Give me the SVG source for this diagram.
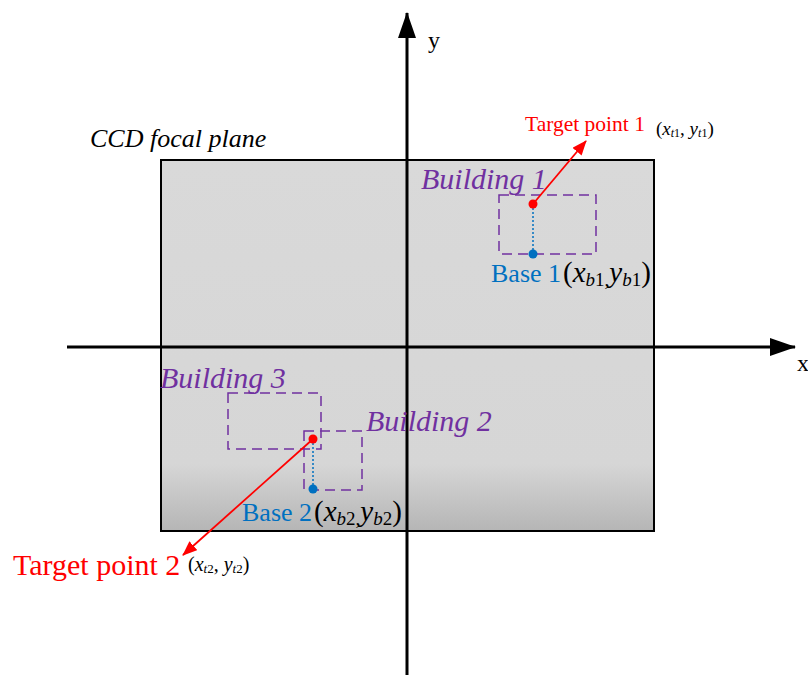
<svg xmlns="http://www.w3.org/2000/svg" width="808" height="675" viewBox="0 0 808 675">
<defs>
<linearGradient id="g" x1="0" y1="0" x2="0" y2="1">
<stop offset="0" stop-color="#d9d9d9"/>
<stop offset="0.82" stop-color="#d6d6d6"/>
<stop offset="1" stop-color="#b5b5b5"/>
</linearGradient>
<marker id="ar" markerWidth="15" markerHeight="12" refX="14" refY="6" orient="auto" markerUnits="userSpaceOnUse">
<path d="M0,0 L15,6 L0,12 Z" fill="#ff0000"/>
</marker>
<marker id="ak" markerWidth="26" markerHeight="18" refX="25" refY="9" orient="auto" markerUnits="userSpaceOnUse">
<path d="M0,0 L26,9 L0,18 Z" fill="#000"/>
</marker>
</defs>
<style>
.t{font-family:"Liberation Serif",serif}
.bld{fill:none;stroke:#7030a0;stroke-width:1.5;stroke-dasharray:10 6}
.bl{font-family:"Liberation Serif",serif;font-style:italic;fill:#7030a0;font-size:30px}
.base{font-family:"Liberation Serif",serif;fill:#0070c0;font-size:26px}
.co{font-family:"Liberation Serif",serif;fill:#000}
.dot{stroke:#0070c0;stroke-width:1.5;stroke-dasharray:2 2}
</style>
<g id="plane">
<rect x="161" y="160" width="493" height="371" fill="url(#g)" stroke="#000" stroke-width="2"/>
<text class="t" x="90" y="147" font-size="26" font-style="italic">CCD focal plane</text>
</g>
<g id="axes">
<line x1="407" y1="675" x2="407" y2="13" stroke="#000" stroke-width="3" marker-end="url(#ak)"/>
<line x1="67" y1="347" x2="795" y2="347" stroke="#000" stroke-width="3" marker-end="url(#ak)"/>
<text class="t" x="428" y="48" font-size="24">y</text>
<text class="t" x="797" y="371" font-size="24">x</text>
</g>
<g id="building1">
<rect class="bld" x="499" y="195" width="97" height="59"/>
<text class="bl" x="421" y="189">Building 1</text>
</g>
<g id="building3">
<rect class="bld" x="228" y="393" width="93" height="56"/>
<text class="bl" x="160" y="388">Building 3</text>
</g>
<g id="building2">
<rect class="bld" x="304" y="431" width="58" height="59"/>
<text class="bl" x="366" y="431">Building 2</text>
</g>
<g id="connectors">
<line class="dot" x1="533" y1="204" x2="533" y2="254"/>
<line class="dot" x1="313" y1="439" x2="313" y2="489"/>
<line x1="533" y1="204" x2="586" y2="141" stroke="#ff0000" stroke-width="1.8" marker-end="url(#ar)"/>
<line x1="313" y1="439" x2="183" y2="555" stroke="#ff0000" stroke-width="1.8" marker-end="url(#ar)"/>
</g>
<g id="target1">
<circle cx="533" cy="204" r="4.5" fill="#ff0000"/>
<text class="t" x="525" y="131" font-size="21.5" fill="#ff0000">Target point 1</text>
<text class="co" x="656" y="135" font-size="19">(<tspan font-style="italic">x</tspan><tspan font-size="12" dy="2" font-style="italic">t</tspan><tspan font-size="12">1</tspan><tspan dy="-2">, </tspan><tspan font-style="italic">y</tspan><tspan font-size="12" dy="2" font-style="italic">t</tspan><tspan font-size="12">1</tspan><tspan dy="-2">)</tspan></text>
</g>
<g id="base1">
<circle cx="533" cy="254" r="4.5" fill="#0070c0"/>
<text class="base" x="491" y="282">Base 1</text>
<text class="co" x="563" y="282" font-size="29">(<tspan font-style="italic">x</tspan><tspan font-size="19" dy="4" font-style="italic">b</tspan><tspan font-size="19">1,</tspan><tspan dy="-4" font-style="italic">y</tspan><tspan font-size="19" dy="4" font-style="italic">b</tspan><tspan font-size="19">1</tspan><tspan dy="-4">)</tspan></text>
</g>
<g id="target2">
<circle cx="313" cy="439" r="4.5" fill="#ff0000"/>
<text class="t" x="13" y="575" font-size="30" fill="#ff0000">Target point 2</text>
<text class="co" x="188" y="571" font-size="20">(<tspan font-style="italic">x</tspan><tspan font-size="13" dy="2" font-style="italic">t</tspan><tspan font-size="13">2</tspan><tspan dy="-2">, </tspan><tspan font-style="italic">y</tspan><tspan font-size="13" dy="2" font-style="italic">t</tspan><tspan font-size="13">2</tspan><tspan dy="-2">)</tspan></text>
</g>
<g id="base2">
<circle cx="313" cy="489" r="4.5" fill="#0070c0"/>
<text class="base" x="242" y="521">Base 2</text>
<text class="co" x="314" y="521" font-size="29">(<tspan font-style="italic">x</tspan><tspan font-size="19" dy="4" font-style="italic">b</tspan><tspan font-size="19">2,</tspan><tspan dy="-4" font-style="italic">y</tspan><tspan font-size="19" dy="4" font-style="italic">b</tspan><tspan font-size="19">2</tspan><tspan dy="-4">)</tspan></text>
</g>
</svg>
